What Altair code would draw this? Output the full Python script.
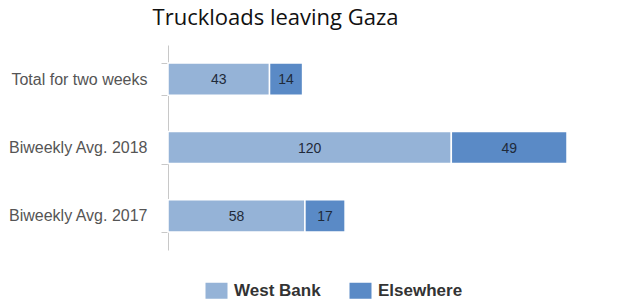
import altair as alt
import pandas as pd

categories = ["Total for two weeks", "Biweekly Avg. 2018", "Biweekly Avg. 2017"]
series = ["West Bank", "Elsewhere"]
west_bank = [43, 120, 58]
elsewhere = [14, 49, 17]
colors = ["#95b3d7", "#5a8ac6"]

rows = []
for i, c in enumerate(categories):
    rows.append({"cat": c, "series": series[0], "order": 0, "value": west_bank[i]})
    rows.append({"cat": c, "series": series[1], "order": 1, "value": elsewhere[i]})
df = pd.DataFrame(rows)

base = alt.Chart(df).transform_stack(
    stack="value", groupby=["cat"], as_=["x0", "x1"], sort=[alt.SortField("order")]
).transform_calculate(mid="(datum.x0 + datum.x1) / 2")

xscale = alt.Scale(domain=[0, 169], nice=False, zero=True)
yenc = alt.Y(
    "cat:N", sort=categories, title=None,
    scale=alt.Scale(paddingInner=0.53, paddingOuter=0.265),
    axis=alt.Axis(tickBand="extent", domainColor="#c8c8c8", tickColor="#c8c8c8",
                  tickSize=7, labelPadding=14, labelFontSize=16, labelColor="#555555",
                  labelFont="Liberation Sans"),
)

bars = base.mark_bar(stroke="white", strokeWidth=1.5).encode(
    x=alt.X("x0:Q", scale=xscale, axis=None),
    x2="x1:Q",
    y=yenc,
    color=alt.Color(
        "series:N", sort=series,
        scale=alt.Scale(domain=series, range=colors),
        legend=alt.Legend(
            title=None, orient="none", direction="horizontal", legendX=40, legendY=237,
            padding=0, symbolType="M-1.375,-1H1.375V1H-1.375Z", symbolSize=256,
            symbolStrokeWidth=0, symbolOpacity=1, labelOffset=9, columnPadding=28,
            labelFont="Liberation Sans", labelFontSize=17, labelFontWeight="bold",
            labelColor="#333333",
        ),
    ),
)

labels = base.mark_text(fontSize=14, color="#1f2a3a", font="Liberation Sans", dy=1).encode(
    x=alt.X("mid:Q", scale=xscale, axis=None),
    y=alt.Y("cat:N", sort=categories),
    text="value:Q",
)

chart = (bars + labels).properties(
    width=399, height=205,
    autosize=alt.AutoSizeParams(type="none"),
    padding={"left": 160, "top": 37, "right": 40, "bottom": 54},
    title=alt.TitleParams("Truckloads leaving Gaza", font="Open Sans", fontSize=22,
                          fontWeight="normal", color="#111111", anchor="middle",
                          dx=-92, dy=4, offset=11),
).configure_view(stroke=None)

chart.save("out.html", embed_options={"renderer": "svg", "actions": False})
